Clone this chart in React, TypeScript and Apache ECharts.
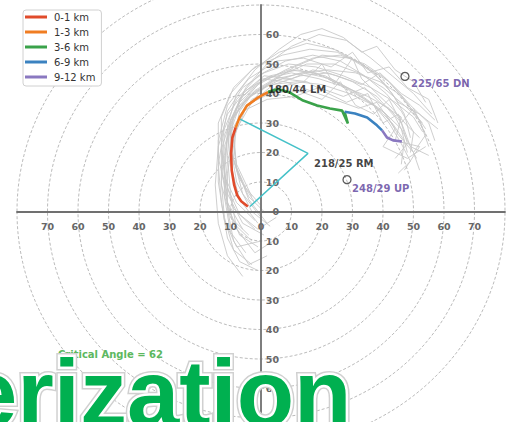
import React, { useEffect, useRef } from 'react';
import * as echarts from 'echarts';

// ring radii (kt)
const ringRadii = [10, 20, 30, 40, 50, 60, 70, 80];

// hodograph layers [u, v]
const layerNames = ['0-1 km', '1-3 km', '3-6 km', '6-9 km', '9-12 km'];
const layerColors = ['#e04b2b', '#f07d22', '#3aa24a', '#3b82c0', '#8a78c0'];
const layer0to1 = [[-4.3, 1.7], [-6.5, 3.5], [-7.8, 5.5], [-8.8, 9], [-9.6, 14], [-9.8, 19.7], [-9.4, 25], [-8.3, 28.5]];
const layer1to3 = [[-8.3, 28.5], [-7, 31.9], [-4.6, 35.9], [-1, 38.6], [2.3, 40.5]];
const layer3to6 = [[2.3, 40.5], [5.5, 41.5], [9.5, 40.3], [13.8, 37.6], [18.4, 35.9], [22.6, 34.9], [26.6, 34.2], [28.5, 29.8], [27.4, 33.8]];
const layer6to9 = [[27.4, 33.8], [30.8, 33.2], [34.8, 31.9], [38, 29.2], [39.7, 27.5]];
const layer9to12 = [[39.7, 27.5], [41.3, 25.1], [43.3, 24.1], [46.2, 23.7]];

// critical angle lines: surface -> RM -> 500 m
const criticalAngleLines = [[-3.6, 1.7], [15.4, 19.7], [-7.2, 31.5]];

// storm motion labels
const stormLabels = ['180/44 LM', '218/25 RM', '248/29 UP', '225/65 DN'];
const stormPoints = [[0, 44], [15.4, 19.7], [28.2, 10.8], [47.2, 45.8]];
const stormColors = ['#111111', '#111111', '#5a3e9b', '#5a3e9b'];
const stormMarked = [false, false, true, true];
const stormOffsets = [[7, 8], [6, 10], [5, 9], [6, 7]];

// ensemble of grey hodographs [u, v]
const grey1 = [[-2, -3], [-8, 3], [-12, 12], [-13, 24], [-11, 34], [-6, 42], [1, 47], [9, 50], [18, 49], [27, 46], [36, 42], [44, 37], [50, 32], [53, 27]];
const grey2 = [[1, -8], [-6, -4], [-11, 6], [-14, 18], [-14, 30], [-10, 40], [-3, 48], [6, 54], [15, 57], [24, 55], [33, 50], [42, 44], [49, 36], [55, 30], [57, 24]];
const grey3 = [[-3, -18], [-9, -13], [-12, -2], [-13, 10], [-12, 22], [-9, 32], [-3, 40], [5, 45], [14, 47], [23, 45], [32, 40], [40, 34], [46, 28], [48, 20]];
const grey4 = [[0, 2], [-5, 8], [-9, 17], [-10, 27], [-7, 36], [-1, 43], [8, 48], [17, 52], [26, 53], [34, 50], [41, 45], [47, 38], [52, 31], [55, 22]];
const grey5 = [[-6, -22], [-11, -15], [-14, -4], [-15, 9], [-14, 22], [-11, 33], [-5, 41], [3, 46], [12, 48], [21, 46], [30, 41], [37, 36], [43, 30], [47, 24], [46, 16]];
const grey6 = [[3, -5], [-3, 0], [-8, 10], [-10, 22], [-9, 33], [-5, 42], [2, 50], [10, 56], [19, 60], [28, 58], [36, 52], [43, 46], [50, 40], [56, 33]];
const grey7 = [[-1, -12], [-7, -8], [-11, 2], [-12, 15], [-11, 27], [-7, 37], [0, 44], [9, 48], [18, 47], [26, 43], [34, 38], [41, 33], [45, 26], [50, 20], [52, 14]];
const grey8 = [[-4, -8], [-10, -2], [-13, 9], [-13, 21], [-10, 31], [-4, 39], [4, 44], [13, 47], [22, 48], [31, 47], [39, 44], [45, 40], [50, 34], [54, 28]];
const grey9 = [[2, -15], [-4, -18], [-9, -10], [-11, 1], [-11, 13], [-9, 25], [-5, 35], [2, 43], [11, 49], [20, 53], [29, 52], [37, 47], [43, 40], [47, 33], [49, 25]];
const grey10 = [[-2, 3], [-7, 11], [-10, 21], [-10, 31], [-6, 39], [1, 45], [10, 47], [19, 45], [28, 42], [35, 39], [42, 35], [46, 30], [48, 23], [44, 18]];
const grey11 = [[5, -2], [-1, -6], [-7, -1], [-11, 8], [-13, 20], [-13, 32], [-9, 42], [-2, 49], [7, 53], [16, 55], [25, 54], [33, 50], [40, 44], [45, 37], [52, 33], [58, 28]];
const grey12 = [[-5, -14], [-10, -7], [-12, 5], [-11, 17], [-8, 28], [-3, 37], [4, 43], [13, 46], [22, 47], [30, 44], [38, 39], [44, 32], [47, 26], [51, 18]];
const grey13 = [[0, -2], [-6, 6], [-9, 18], [-8, 30], [-3, 38], [5, 42], [14, 44], [20, 50], [24, 43], [30, 52], [33, 45], [38, 40], [43, 35], [48, 29], [52, 25]];
const grey14 = [[-3, -10], [-9, -4], [-12, 7], [-12, 19], [-10, 30], [-5, 38], [3, 43], [12, 44], [20, 43], [29, 40], [37, 36], [42, 30], [46, 23], [49, 17], [45, 13]];
const grey15 = [[1, 0], [-4, 5], [-8, 14], [-9, 25], [-7, 34], [-2, 41], [6, 46], [15, 50], [24, 50], [32, 47], [40, 42], [47, 36], [53, 30]];
const grey16 = [[-1, -20], [-7, -17], [-11, -9], [-13, 3], [-14, 16], [-12, 28], [-8, 38], [-1, 46], [8, 51], [17, 53], [26, 51], [34, 46], [41, 40], [46, 34], [50, 27], [49, 20]];
const grey17 = [[2, -4], [-4, 4], [-8, 15], [-9, 27], [-5, 36], [3, 40], [12, 41], [20, 38], [26, 44], [31, 36], [37, 33], [42, 38], [46, 30], [50, 35], [54, 26], [50, 20]];
const grey18 = [[-6, -6], [-11, 3], [-13, 14], [-12, 26], [-8, 35], [-1, 41], [7, 45], [15, 44], [22, 40], [28, 37], [35, 40], [40, 30], [45, 33], [49, 22], [55, 19]];
const grey19 = [[0, -10], [-8, -12], [-12, -3], [-14, 10], [-14, 24], [-11, 36], [-4, 45], [5, 51], [14, 52], [23, 49], [30, 54], [35, 47], [42, 49], [48, 42], [55, 38], [58, 30]];
const grey20 = [[-3, 5], [-8, 16], [-10, 28], [-7, 38], [0, 45], [8, 44], [16, 41], [24, 38], [32, 35], [38, 37], [44, 28], [40, 22], [48, 18], [54, 22]];
const grey21 = [[4, -10], [-2, -14], [-8, -6], [-10, 6], [-11, 19], [-10, 31], [-6, 40], [1, 46], [10, 45], [17, 48], [25, 46], [33, 43], [39, 47], [46, 40], [52, 36], [57, 31]];
const grey22 = [[-2, -6], [-9, 1], [-12, 12], [-11, 25], [-6, 34], [2, 38], [11, 39], [19, 42], [27, 39], [34, 42], [40, 36], [46, 32], [44, 24], [52, 22], [47, 14]];
const grey23 = [[-1, -4], [-7, 4], [-10, 16], [-11, 29], [-8, 40], [-2, 48], [6, 55], [13, 60], [20, 62], [27, 59], [33, 54], [38, 56], [44, 48], [50, 44], [54, 37]];
const greyTraces = [grey1, grey2, grey3, grey4, grey5, grey6, grey7, grey8, grey9, grey10, grey11, grey12, grey13, grey14, grey15, grey16, grey17, grey18, grey19, grey20, grey21, grey22, grey23];

const criticalAngleText = 'Critical Angle = 62';
const bannerText = 'erization';

const FONT = '"DejaVu Sans", sans-serif';
const BANNER_FONT = 'bold 94px "Liberation Sans", Arial, sans-serif';

// layout (pixels)
const GRID_LEFT = 17;
const GRID_TOP = 5;
const GRID_W = 488;
const GRID_H = 413;
const ZERO_X = GRID_LEFT + GRID_W / 2;
const ZERO_Y = GRID_TOP + GRID_H / 2;

export default function App() {
  const ref = useRef<HTMLDivElement>(null);

  useEffect(() => {
    if (!ref.current) return;
    const chart = echarts.init(ref.current, undefined, { renderer: 'svg' });
    const layers = [layer0to1, layer1to3, layer3to6, layer6to9, layer9to12];

    const series: any[] = [];
    series.push({
      type: 'custom',
      silent: true,
      clip: false,
      z: 1,
      data: ringRadii.map((r) => [r, 0]),
      renderItem: (_p: any, api: any) => {
        const r = api.value(0);
        const c = api.coord([0, 0]);
        const s = api.size([r, r]);
        return {
          type: 'ellipse',
          shape: { cx: c[0], cy: c[1], rx: s[0], ry: s[1] },
          style: { fill: 'none', stroke: '#aaaaaa', lineWidth: 0.8, lineDash: [3, 2] },
        };
      },
    });
    greyTraces.forEach((t) => {
      series.push({
        type: 'line',
        data: t,
        showSymbol: false,
        symbol: 'none',
        silent: true,
        z: 2,
        lineStyle: { color: '#c8c8c8', width: 0.9 },
      });
    });
    series.push({
      type: 'line',
      data: criticalAngleLines,
      symbol: 'none',
      silent: true,
      z: 4,
      lineStyle: { color: '#44c1c8', width: 1.5 },
    });
    layers.forEach((d, i) => {
      series.push({
        name: layerNames[i],
        type: 'line',
        data: d,
        symbol: 'none',
        silent: true,
        z: 5,
        color: layerColors[i],
        lineStyle: { color: layerColors[i], width: 2.6 },
      });
    });
    series.push({
      type: 'scatter',
      silent: true,
      z: 6,
      data: stormPoints.map((p, i) => ({
        value: p,
        symbolSize: stormMarked[i] ? 8 : 0.1,
        itemStyle: stormMarked[i]
          ? { color: 'rgba(0,0,0,0)', borderColor: '#333', borderWidth: 1.3 }
          : { color: 'rgba(0,0,0,0)' },
        label: {
          show: true,
          formatter: stormLabels[i],
          position: 'inside',
          align: 'left',
          verticalAlign: 'middle',
          offset: stormOffsets[i],
          color: stormColors[i],
          fontWeight: 'bold',
          fontSize: 10,
          fontFamily: FONT,
        },
      })),
    });

    const bannerLayer = (z: number, fill: string, stroke: string | null, lw: number) => ({
      type: 'text',
      x: -35,
      y: 393,
      z,
      silent: true,
      style: {
        text: bannerText,
        font: BANNER_FONT,
        fill,
        stroke: stroke || undefined,
        lineWidth: lw,
        align: 'left',
        verticalAlign: 'middle',
        textAlign: 'left',
        textVerticalAlign: 'middle',
      },
    });

    chart.setOption({
      animation: false,
      backgroundColor: '#ffffff',
      grid: {
        left: GRID_LEFT,
        top: GRID_TOP,
        width: GRID_W,
        height: GRID_H,
        containLabel: false,
        outerBoundsMode: 'none',
      },
      legend: {
        data: layerNames,
        orient: 'vertical',
        left: 23,
        top: 10,
        icon: 'rect',
        itemWidth: 22,
        itemHeight: 3,
        itemGap: 3,
        padding: [1, 6, 3, 2],
        backgroundColor: '#ffffff',
        borderColor: '#d0d0d0',
        borderWidth: 1,
        borderRadius: 3,
        selectedMode: false,
        textStyle: { fontSize: 10, color: '#333', fontFamily: FONT, lineHeight: 12, padding: [0, 0, 0, 2] },
      },
      xAxis: {
        type: 'value',
        position: 'bottom',
        offset: -(GRID_TOP + GRID_H - ZERO_Y),
        min: -80,
        max: 80,
        interval: 10,
        z: 3,
        splitLine: { show: false },
        axisTick: { show: false },
        axisLine: { onZero: false, lineStyle: { color: '#707070', width: 1.8 } },
        axisLabel: {
          margin: 10,
          fontSize: 9.5,
          fontWeight: 'bold',
          color: '#666',
          fontFamily: FONT,
          formatter: (v: number) => (Math.abs(v) >= 80 ? '' : String(Math.abs(v))),
        },
      },
      yAxis: {
        type: 'value',
        position: 'left',
        offset: -(ZERO_X - GRID_LEFT),
        min: -70,
        max: 70,
        interval: 10,
        z: 3,
        splitLine: { show: false },
        axisTick: { show: false },
        axisLine: { onZero: false, lineStyle: { color: '#707070', width: 1.8 } },
        axisLabel: {
          inside: true,
          margin: 18,
          align: 'right',
          fontSize: 9.5,
          fontWeight: 'bold',
          color: '#666',
          fontFamily: FONT,
          formatter: (v: number) => (v >= 70 ? '' : String(Math.abs(v))),
        },
      },
      graphic: [
        {
          type: 'text',
          x: 58,
          y: 354,
          z: 90,
          silent: true,
          style: {
            text: criticalAngleText,
            font: 'bold 10px "DejaVu Sans", sans-serif',
            fill: '#5cb860',
            align: 'left',
            verticalAlign: 'middle',
            textAlign: 'left',
            textVerticalAlign: 'middle',
          },
        },
        bannerLayer(100, '#d0d0d0', '#d0d0d0', 8),
        bannerLayer(101, '#ffffff', '#ffffff', 5),
        bannerLayer(102, '#00b050', null, 0),
      ],
      series,
    });

    return () => chart.dispose();
  }, []);

  return (
    <div
      ref={ref}
      style={{ position: 'absolute', left: 0, top: 0, width: 512, height: 422, background: '#fff' }}
    />
  );
}
